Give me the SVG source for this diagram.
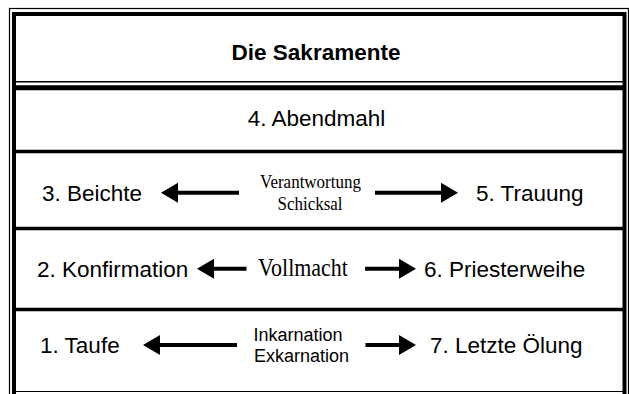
<svg xmlns="http://www.w3.org/2000/svg" width="629" height="394" viewBox="0 0 629 394">
<style>
.sans{font-family:"Liberation Sans",Arial,sans-serif;fill:#000}
.serif{font-family:"Liberation Serif","Times New Roman",serif;fill:#000}
.lbl{font-size:22.5px}
.ttl{font-size:22.5px;font-weight:bold}
.small{font-size:18px}
.rule{stroke:#000;fill:none}
.arrow{stroke:#000;stroke-width:4;fill:none;marker-end:url(#head)}
</style>
<defs>
<marker id="head" markerUnits="userSpaceOnUse" markerWidth="18" markerHeight="20" refX="0" refY="10" orient="auto" overflow="visible">
<path d="M0,0 L17,10 L0,20 Z" fill="#000"/>
</marker>
</defs>
<rect width="629" height="394" fill="#fff"/>
<g id="frame">
<rect class="rule" x="9.5" y="8.5" width="619" height="400" stroke-width="1.2"/>
<rect class="rule" x="14" y="14" width="610.5" height="400" stroke-width="4"/>
<line class="rule" x1="14" y1="81.75" x2="624.5" y2="81.75" stroke-width="1.5"/>
<line class="rule" x1="14" y1="87.75" x2="624.5" y2="87.75" stroke-width="5"/>
<line class="rule" x1="14" y1="151.5" x2="624.5" y2="151.5" stroke-width="3.5"/>
<line class="rule" x1="14" y1="228.5" x2="624.5" y2="228.5" stroke-width="3.5"/>
<line class="rule" x1="14" y1="309.5" x2="624.5" y2="309.5" stroke-width="3.5"/>
<line class="rule" x1="14" y1="391.5" x2="624.5" y2="391.5" stroke-width="1"/>
</g>
<g id="title"><text class="sans ttl" x="316" y="60" text-anchor="middle">Die Sakramente</text></g>
<g id="n4"><text class="sans lbl" x="316.5" y="126" text-anchor="middle">4. Abendmahl</text></g>
<g id="n3"><text class="sans lbl" x="42" y="200.5">3. Beichte</text></g>
<g id="n5"><text class="sans lbl" x="476" y="200.5">5. Trauung</text></g>
<g id="n2"><text class="sans lbl" x="37" y="277">2. Konfirmation</text></g>
<g id="n6"><text class="sans lbl" x="424" y="277">6. Priesterweihe</text></g>
<g id="n1"><text class="sans lbl" x="40" y="353">1. Taufe</text></g>
<g id="n7"><text class="sans lbl" x="430" y="353">7. Letzte Ölung</text></g>
<g id="connectors">
<line class="arrow" x1="239" y1="192.7" x2="178" y2="192.7"/>
<line class="arrow" x1="375" y1="192.7" x2="441" y2="192.7"/>
<line class="arrow" x1="246.5" y1="268.7" x2="214" y2="268.7"/>
<line class="arrow" x1="365" y1="268.7" x2="399" y2="268.7"/>
<line class="arrow" x1="237" y1="345" x2="160" y2="345"/>
<line class="arrow" x1="365.5" y1="345" x2="399" y2="345"/>
<text class="serif" font-size="17" x="310.5" y="174" text-anchor="middle" transform="translate(0,188) scale(1,1.08) translate(0,-174)">Verantwortung</text>
<text class="serif" font-size="17" x="310" y="195" text-anchor="middle" transform="translate(0,210.5) scale(1,1.08) translate(0,-195)">Schicksal</text>
<text class="serif" font-size="22" x="303" y="0" text-anchor="middle" transform="translate(0,276) scale(1,1.1)">Vollmacht</text>
<text class="sans small" x="298" y="341" text-anchor="middle">Inkarnation</text>
<text class="sans small" x="301.5" y="361.5" text-anchor="middle">Exkarnation</text>
</g>
</svg>
